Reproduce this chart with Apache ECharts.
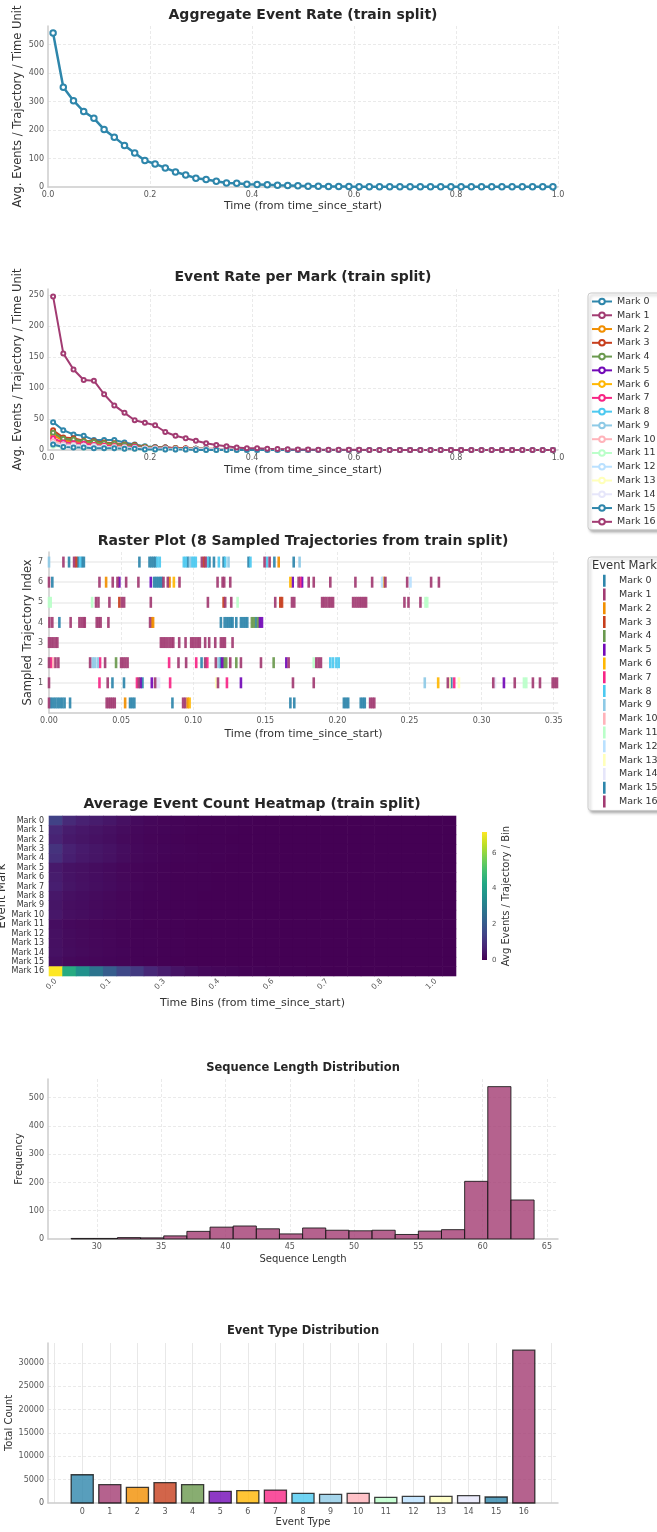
<!DOCTYPE html>
<html>
<head>
<meta charset="utf-8">
<script src="https://cdn.jsdelivr.net/npm/echarts@6/dist/echarts.min.js"></script>
<style>
  html, body { margin: 0; padding: 0; background: #ffffff; }
  #chart { width: 657px; height: 1532px; }
</style>
</head>
<body>
<div id="chart"></div>
<script>
// ---------- shared ----------
const FONT = 'DejaVu Sans';
const markNames = ['Mark 0','Mark 1','Mark 2','Mark 3','Mark 4','Mark 5','Mark 6','Mark 7','Mark 8',
  'Mark 9','Mark 10','Mark 11','Mark 12','Mark 13','Mark 14','Mark 15','Mark 16'];
const markColors = ['#2E86AB','#A23B72','#F18F01','#C73E1D','#6A994E','#7209B7','#FFB703','#F72585',
  '#4CC9F0','#8ECAE6','#FFB3BA','#BAFFC9','#BAE1FF','#FFFFBA','#E6E6FA','#2E86AB','#A23B72'];

// ---------- event rates (bin centres of width 0.02) ----------
const timeBins = [0.01,0.03,0.05,0.07,0.09,0.11,0.13,0.15,0.17,0.19,0.21,0.23,0.25,0.27,0.29,0.31,0.33,0.35,0.37,0.39,
  0.41,0.43,0.45,0.47,0.49,0.51,0.53,0.55,0.57,0.59,0.61,0.63,0.65,0.67,0.69,0.71,0.73,0.75,0.77,0.79,
  0.81,0.83,0.85,0.87,0.89,0.91,0.93,0.95,0.97,0.99];
const aggregateRate = [540,350,303,265,241,202,175,146,119,93,81,67,53,42,31,26,20,14,13,10,
  9,8,6,5,4,3,2.5,2,2,1.5,1.2,1,1,1,0.8,0.8,0.8,0.6,0.6,0.6,0.6,0.5,0.5,0.5,0.5,0.5,0.5,0.5,0.5,0.5];

const rateMark0 = [45,32,25,23,16,16,16,12,9,6,5,4,3,2,2,1.5,1,1,0.8,0.6,0.5,0.4,0.3,0.3,0.2,0.2,0.1,0.1,0.1,0.1,
  0,0,0,0,0,0,0,0,0,0,0,0,0,0,0,0,0,0,0,0];
const rateMark1 = [28,17,15,13,12,10,9,8,6,5,4,4,3,2,2,2,1,1,0.8,0.6,0.5,0.4,0.3,0.2,0.2,0.1,0.1,0.1,
  0,0,0,0,0,0,0,0,0,0,0,0,0,0,0,0,0,0,0,0,0,0];
const rateMark2 = [24,15,13,12,10,9,8,7,5,4,3,3,3,2,1,1,1,1,0.6,0.5,0.4,0.3,0.2,0.2,0.1,0.1,0.1,0.1,
  0,0,0,0,0,0,0,0,0,0,0,0,0,0,0,0,0,0,0,0,0,0];
const rateMark3 = [32,20,19,15,14,12,11,9,8,5,4,4,3,3,2,2,2,1,0.8,0.7,0.5,0.4,0.3,0.2,0.2,0.1,0.1,0.1,
  0,0,0,0,0,0,0,0,0,0,0,0,0,0,0,0,0,0,0,0,0,0];
const rateMark4 = [28,18,17,14,13,11,10,8,7,5,4,4,3,2,2,2,1,1,0.8,0.6,0.5,0.4,0.3,0.2,0.2,0.1,0.1,0.1,
  0,0,0,0,0,0,0,0,0,0,0,0,0,0,0,0,0,0,0,0,0,0];
const rateMark5 = [15,11,10,9,8,6,6,5,4,3,2,2,2,1,1,1,1,1,0.5,0.4,0.3,0.2,0.2,0.1,0.1,0.1,0,0,
  0,0,0,0,0,0,0,0,0,0,0,0,0,0,0,0,0,0,0,0,0,0];
const rateMark6 = [17,11,10,9,8,7,6,5,4,3,3,2,2,1,1,1,1,1,0.5,0.4,0.3,0.2,0.2,0.1,0.1,0.1,0,0,
  0,0,0,0,0,0,0,0,0,0,0,0,0,0,0,0,0,0,0,0,0,0];
const rateMark7 = [19,12,11,10,8,7,6,5,5,3,3,3,2,2,1,1,1,1,0.5,0.4,0.3,0.2,0.2,0.1,0.1,0.1,0,0,
  0,0,0,0,0,0,0,0,0,0,0,0,0,0,0,0,0,0,0,0,0,0];
const rateMark8 = [13,9,8,7,6,5,5,4,3,2,2,2,1,1,1,1,1,0,0.4,0.3,0.2,0.2,0.1,0.1,0.1,0,0,0,
  0,0,0,0,0,0,0,0,0,0,0,0,0,0,0,0,0,0,0,0,0,0];
const rateMark9 = [11,8,7,7,6,5,4,4,3,2,2,2,1,1,1,1,0,0,0.3,0.3,0.2,0.2,0.1,0.1,0.1,0,0,0,
  0,0,0,0,0,0,0,0,0,0,0,0,0,0,0,0,0,0,0,0,0,0];
const rateMark10 = [14,9,8,7,6,5,5,4,3,2,2,2,1,1,1,1,1,0,0.4,0.3,0.2,0.2,0.1,0.1,0.1,0,0,0,
  0,0,0,0,0,0,0,0,0,0,0,0,0,0,0,0,0,0,0,0,0,0];
const rateMark11 = [7,5,5,4,4,3,3,2,2,1,1,1,1,1,0,0,0,0,0.2,0.2,0.1,0.1,0.1,0,0,0,0,0,
  0,0,0,0,0,0,0,0,0,0,0,0,0,0,0,0,0,0,0,0,0,0];
const rateMark12 = [9,6,6,5,4,4,3,3,2,2,1,1,1,1,0,0,0,0,0.2,0.2,0.1,0.1,0.1,0,0,0,0,0,
  0,0,0,0,0,0,0,0,0,0,0,0,0,0,0,0,0,0,0,0,0,0];
const rateMark13 = [9,6,6,5,4,4,3,3,2,2,1,1,1,1,0,0,0,0,0.2,0.2,0.1,0.1,0.1,0,0,0,0,0,
  0,0,0,0,0,0,0,0,0,0,0,0,0,0,0,0,0,0,0,0,0,0];
const rateMark14 = [10,7,6,6,5,4,3,3,3,2,2,1,1,1,1,1,1,1,0.3,0.2,0.2,0.1,0.1,0,0,0,0,0,
  0,0,0,0,0,0,0,0,0,0,0,0,0,0,0,0,0,0,0,0,0,0];
const rateMark15 = [9,5,4,4,3,3,3,2,2,1,1,1,1,1,0,0,0,0,0.2,0.1,0.1,0.1,0,0,0,0,0,0,
  0,0,0,0,0,0,0,0,0,0,0,0,0,0,0,0,0,0,0,0,0,0];
const rateMark16 = [248,156,130,113,112,90,72,60,48,44,40,29,23,19,15,11,8,6,4,3,3,2,1.5,1.2,1,0.8,0.6,0.5,0.4,0.3,
  0.3,0.2,0.2,0.1,0.1,0.1,0.1,0.1,0,0,0,0,0,0,0,0,0,0,0,0];
const markRates = [rateMark0,rateMark1,rateMark2,rateMark3,rateMark4,rateMark5,rateMark6,rateMark7,rateMark8,
  rateMark9,rateMark10,rateMark11,rateMark12,rateMark13,rateMark14,rateMark15,rateMark16];

// ---------- raster: [time, mark] per sampled trajectory ----------
const traj0 = [[0.000,16],[0.0012,0],[0.0028,0],[0.0044,0],[0.006,0],[0.0076,0],[0.0092,0],[0.0108,0],[0.0146,0],
  [0.040,16],[0.0415,16],[0.0428,16],[0.0442,16],[0.0456,16],[0.0528,2],[0.0562,0],[0.0577,0],[0.0592,0],[0.0856,0],
  [0.093,16],[0.0945,1],[0.0962,2],[0.0975,6],[0.1674,0],[0.1701,0],[0.2045,0],[0.206,0],[0.2075,0],
  [0.2162,15],[0.2177,15],[0.219,15],[0.2227,16],[0.2242,16],[0.2256,16]];
const traj1 = [[0.000,16],[0.035,7],[0.0407,16],[0.044,0],[0.052,0],[0.061,7],[0.0623,16],[0.0635,5],[0.0648,0],
  [0.0713,5],[0.0736,16],[0.0748,14],[0.0763,14],[0.084,7],[0.116,13],[0.1172,16],[0.1234,7],[0.1331,5],[0.1692,16],
  [0.1836,16],[0.2606,9],[0.2699,6],[0.2766,16],[0.2778,13],[0.279,0],[0.281,7],[0.2843,13],[0.3081,16],[0.3093,14],
  [0.3155,5],[0.323,16],[0.3294,11],[0.331,11],[0.3356,16],[0.3405,16],[0.3493,16],[0.3508,16],[0.3523,16]];
const traj2 = [[0.000,16],[0.0015,7],[0.003,10],[0.0045,16],[0.0065,16],[0.0285,16],[0.0303,9],[0.0318,9],[0.0338,9],
  [0.0354,7],[0.0389,16],[0.0465,4],[0.050,16],[0.0515,16],[0.053,16],[0.0545,16],[0.0833,7],[0.0898,16],[0.0951,16],
  [0.1021,7],[0.1058,0],[0.1083,16],[0.1098,7],[0.1157,16],[0.1176,9],[0.1188,0],[0.1201,5],[0.1213,4],[0.1229,4],
  [0.1257,16],[0.1299,4],[0.1331,16],[0.147,16],[0.1558,4],[0.1646,5],[0.1662,16],[0.1836,11],[0.1854,16],[0.187,16],
  [0.1886,16],[0.1951,8],[0.197,8],[0.1993,8],[0.2009,8]];
const traj3 = [[0.000,16],[0.0015,16],[0.003,16],[0.0045,16],[0.0058,16],[0.0776,16],[0.0791,16],[0.0806,16],
  [0.0821,16],[0.0836,16],[0.085,16],[0.0862,16],[0.0903,16],[0.0947,16],[0.0986,16],[0.1001,16],[0.1016,16],
  [0.1031,16],[0.1046,16],[0.1083,16],[0.1111,16],[0.1153,16],[0.1192,16],[0.1207,16],[0.122,16],[0.1273,16]];
const traj4 = [[0.0003,16],[0.0023,16],[0.0072,0],[0.015,16],[0.0211,16],[0.0226,16],[0.0241,16],[0.0248,16],
  [0.0331,16],[0.0345,16],[0.0358,16],[0.0412,16],[0.0701,16],[0.0715,2],[0.0722,2],[0.1192,0],[0.1218,0],[0.1233,0],
  [0.1248,0],[0.1262,0],[0.1273,0],[0.1299,0],[0.1331,0],[0.1346,0],[0.1361,0],[0.1375,0],[0.1407,4],[0.1421,4],
  [0.1435,0],[0.1449,4],[0.1463,5],[0.1477,5]];
const traj5 = [[0.000,11],[0.0012,11],[0.0299,11],[0.0326,16],[0.0343,16],[0.0419,16],[0.0488,3],[0.0505,16],
  [0.0521,16],[0.0706,16],[0.1102,16],[0.1211,3],[0.1222,16],[0.1264,16],[0.1308,11],[0.1569,16],[0.1604,3],
  [0.1616,3],[0.1685,16],[0.1701,16],[0.1894,16],[0.1909,16],[0.1924,16],[0.194,16],[0.1955,16],[0.197,16],
  [0.2109,16],[0.2125,16],[0.214,16],[0.2155,16],[0.217,16],[0.2185,16],[0.2199,16],[0.2465,16],[0.2493,16],
  [0.2576,16],[0.2611,11],[0.2623,11]];
const traj6 = [[0.000,16],[0.0023,0],[0.035,16],[0.0396,2],[0.0442,16],[0.0475,16],[0.0488,5],[0.0535,16],[0.062,16],
  [0.0706,5],[0.0729,0],[0.0743,0],[0.0757,0],[0.0771,0],[0.0782,0],[0.0794,16],[0.0824,16],[0.0836,2],[0.0866,6],
  [0.0905,16],[0.1169,16],[0.1204,16],[0.1215,16],[0.1257,16],[0.1674,6],[0.169,5],[0.1731,16],[0.1743,7],[0.1755,5],
  [0.1801,16],[0.1836,16],[0.1951,16],[0.2125,16],[0.2241,16],[0.231,12],[0.2322,2],[0.2333,16],[0.2484,16],
  [0.2507,12],[0.265,16],[0.2704,16]];
const traj7 = [[0.000,9],[0.010,16],[0.0139,0],[0.0174,16],[0.0188,3],[0.0202,0],[0.0216,8],[0.0229,0],[0.0242,0],
  [0.0627,0],[0.0697,0],[0.0711,0],[0.0725,0],[0.0738,0],[0.0752,8],[0.0768,8],[0.0935,8],[0.0949,8],[0.0963,0],
  [0.0977,9],[0.0991,8],[0.1005,8],[0.1018,8],[0.106,16],[0.1075,3],[0.1086,16],[0.110,8],[0.1113,0],[0.1144,0],
  [0.1178,8],[0.1211,0],[0.1222,8],[0.1245,9],[0.1384,0],[0.1397,8],[0.1495,16],[0.1512,8],[0.153,16],[0.1563,0],
  [0.1593,2],[0.1697,0],[0.1738,9]];
const trajectories = [traj0, traj1, traj2, traj3, traj4, traj5, traj6, traj7];

// ---------- heatmap: avg events per trajectory per bin (30 bins) ----------
const heatTickLabels = ['0.0','0.1','0.3','0.4','0.6','0.7','0.8','1.0'];
const heatMark0  = [1.40,0.85,0.66,0.55,0.44,0.30,0.19,0.13,0.09,0.06,0.05,0.04,0.03,0.02,0.02,0.01,0.01,0.01,0,0,0,0,0,0,0,0,0,0,0,0];
const heatMark1  = [0.80,0.55,0.45,0.38,0.30,0.22,0.15,0.11,0.08,0.06,0.04,0.03,0.02,0.02,0.01,0.01,0.01,0,0,0,0,0,0,0,0,0,0,0,0,0];
const heatMark2  = [0.70,0.48,0.40,0.32,0.26,0.18,0.12,0.09,0.06,0.04,0.03,0.03,0.02,0.01,0.01,0.01,0,0,0,0,0,0,0,0,0,0,0,0,0,0];
const heatMark3  = [1.05,0.65,0.52,0.42,0.34,0.24,0.15,0.11,0.08,0.06,0.04,0.03,0.02,0.02,0.01,0.01,0.01,0,0,0,0,0,0,0,0,0,0,0,0,0];
const heatMark4  = [0.95,0.60,0.48,0.40,0.32,0.22,0.14,0.10,0.07,0.05,0.04,0.03,0.02,0.01,0.01,0.01,0,0,0,0,0,0,0,0,0,0,0,0,0,0];
const heatMark5  = [0.50,0.35,0.30,0.24,0.19,0.13,0.09,0.06,0.04,0.03,0.02,0.02,0.01,0.01,0,0,0,0,0,0,0,0,0,0,0,0,0,0,0,0];
const heatMark6  = [0.55,0.37,0.31,0.25,0.20,0.14,0.09,0.07,0.05,0.03,0.02,0.02,0.01,0.01,0,0,0,0,0,0,0,0,0,0,0,0,0,0,0,0];
const heatMark7  = [0.60,0.40,0.33,0.26,0.21,0.15,0.10,0.07,0.05,0.03,0.02,0.02,0.01,0.01,0,0,0,0,0,0,0,0,0,0,0,0,0,0,0,0];
const heatMark8  = [0.45,0.30,0.25,0.20,0.16,0.11,0.07,0.05,0.04,0.03,0.02,0.01,0.01,0,0,0,0,0,0,0,0,0,0,0,0,0,0,0,0,0];
const heatMark9  = [0.40,0.27,0.23,0.18,0.14,0.10,0.07,0.05,0.03,0.02,0.02,0.01,0.01,0,0,0,0,0,0,0,0,0,0,0,0,0,0,0,0,0];
const heatMark10 = [0.45,0.29,0.24,0.19,0.15,0.10,0.07,0.05,0.04,0.03,0.02,0.01,0.01,0,0,0,0,0,0,0,0,0,0,0,0,0,0,0,0,0];
const heatMark11 = [0.25,0.17,0.14,0.11,0.09,0.06,0.04,0.03,0.02,0.02,0.01,0.01,0,0,0,0,0,0,0,0,0,0,0,0,0,0,0,0,0,0];
const heatMark12 = [0.30,0.20,0.16,0.13,0.10,0.07,0.05,0.04,0.03,0.02,0.01,0.01,0,0,0,0,0,0,0,0,0,0,0,0,0,0,0,0,0,0];
const heatMark13 = [0.30,0.20,0.16,0.13,0.10,0.07,0.05,0.04,0.03,0.02,0.01,0.01,0,0,0,0,0,0,0,0,0,0,0,0,0,0,0,0,0,0];
const heatMark14 = [0.33,0.22,0.18,0.14,0.11,0.08,0.05,0.04,0.03,0.02,0.01,0.01,0,0,0,0,0,0,0,0,0,0,0,0,0,0,0,0,0,0];
const heatMark15 = [0.26,0.16,0.12,0.10,0.08,0.06,0.04,0.03,0.02,0.01,0.01,0,0,0,0,0,0,0,0,0,0,0,0,0,0,0,0,0,0,0];
const heatMark16 = [7.17,4.40,3.60,2.75,2.10,1.55,1.20,0.78,0.55,0.37,0.24,0.15,0.10,0.08,0.05,0.04,0.03,0.02,0.02,0.01,0.01,0.01,0,0,0,0,0,0,0,0];
const heatRows = [heatMark0,heatMark1,heatMark2,heatMark3,heatMark4,heatMark5,heatMark6,heatMark7,heatMark8,
  heatMark9,heatMark10,heatMark11,heatMark12,heatMark13,heatMark14,heatMark15,heatMark16];
const heatMax = 7.17;
const viridis = ['#440154','#482475','#414487','#355f8d','#2a788e','#21918c','#22a884','#44bf70','#7ad151','#bddf26','#fde725'];

// ---------- sequence length histogram ----------
const histEdges = [28,29.8,31.6,33.4,35.2,37,38.8,40.6,42.4,44.2,46,47.8,49.6,51.4,53.2,55,56.8,58.6,60.4,62.2,64];
const histCounts = [2,2,5,4,11,27,42,46,36,18,39,31,29,31,16,28,33,204,539,138];

// ---------- event type totals ----------
const eventTypes = [0,1,2,3,4,5,6,7,8,9,10,11,12,13,14,15,16];
const totalCounts = [6040,3910,3340,4340,3910,2490,2630,2770,2060,1850,2060,1210,1420,1420,1560,1280,32700];

// ---------- helpers ----------
const GRID_COLOR = '#e5e5e5';
const spine = { show: true, onZero: false, lineStyle: { color: '#cccccc', width: 1.5 } };
function ticks(step, digits, extra) {
  return Object.assign({
    fontFamily: FONT, fontSize: 8, color: '#555555', margin: 4,
    formatter: v => { const k = v / step; return Math.abs(k - Math.round(k)) < 1e-6 ? (+v).toFixed(digits) : ''; }
  }, extra || {});
}
function dashed(showMax) {
  return { show: true, showMinLine: false, showMaxLine: showMax, lineStyle: { color: GRID_COLOR, width: 0.8, type: [3, 2] } };
}
function axisTitle(text, gap, size) {
  return { name: text, nameLocation: 'middle', nameGap: gap, nameMoveOverlap: false,
    nameTextStyle: { fontFamily: FONT, fontSize: size, color: '#333333' } };
}
function titleText(text, x, y, size) {
  return { type: 'text', x: x, y: y, z: 10,
    style: { text: text, fill: '#262626', fontFamily: FONT, fontWeight: 'bold', fontSize: size, align: 'center', verticalAlign: 'middle' } };
}
function gridAt(left, top, width, height) {
  return { left: left, top: top, width: width, height: height, containLabel: false, outerBoundsMode: 'none' };
}

const grids = [
  gridAt(48, 26, 510, 161),    // aggregate rate
  gridAt(48, 289, 510, 161),   // per-mark rate
  gridAt(49, 552, 509, 161),   // raster
  gridAt(49, 816, 407, 160),   // heatmap
  gridAt(482, 832, 5, 128),    // colour bar
  gridAt(48, 1079, 510, 160),  // histogram
  gridAt(48, 1343, 510, 160)   // event type bars
];

const timeName = 'Time (from time_since_start)';
const rateName = 'Avg. Events / Trajectory / Time Unit';

const xAxes = [
  Object.assign({ gridIndex: 0, type: 'value', min: 0, max: 1, interval: 0.2, axisLine: spine, axisTick: { show: false },
    axisLabel: ticks(0.2, 1), splitLine: dashed(true) }, axisTitle(timeName, 14, 11)),
  Object.assign({ gridIndex: 1, type: 'value', min: 0, max: 1, interval: 0.2, axisLine: spine, axisTick: { show: false },
    axisLabel: ticks(0.2, 1), splitLine: dashed(true) }, axisTitle(timeName, 15, 11)),
  Object.assign({ gridIndex: 2, type: 'value', min: 0, max: 0.353, interval: 0.05, axisLine: spine, axisTick: { show: false },
    axisLabel: ticks(0.05, 2), splitLine: dashed(false) }, axisTitle(timeName, 16, 11)),
  Object.assign({ gridIndex: 3, type: 'category', data: heatMark0.map((v, i) => i), boundaryGap: true,
    axisLine: { show: false }, axisTick: { show: false }, splitLine: { show: false },
    axisLabel: { interval: 3, rotate: 45, fontFamily: FONT, fontSize: 7.5, color: '#555555', margin: 4,
      formatter: (v, idx) => (idx % 4 === 0 ? heatTickLabels[idx / 4] : '') } },
    axisTitle('Time Bins (from time_since_start)', 22, 11)),
  { gridIndex: 4, type: 'value', min: 0, max: 1, show: false },
  Object.assign({ gridIndex: 5, type: 'value', min: 26.2, max: 65.86, minInterval: 5, maxInterval: 5, axisLine: spine,
    axisTick: { show: false }, axisLabel: ticks(5, 0), splitLine: dashed(false) }, axisTitle('Sequence Length', 15, 10)),
  Object.assign({ gridIndex: 6, type: 'value', min: -1.24, max: 17.24, minInterval: 1, maxInterval: 1, axisLine: spine,
    axisTick: { show: false },
    axisLabel: { fontFamily: FONT, fontSize: 8, color: '#555555', margin: 5,
      formatter: v => (eventTypes.indexOf(v) >= 0 ? String(v) : '') },
    splitLine: { show: true, showMinLine: false, showMaxLine: false,
      lineStyle: { width: 1, type: 'solid', color: eventTypes.map(() => '#e8e8e8').concat(['rgba(0,0,0,0)']) } } },
    axisTitle('Event Type', 14, 10))
];

const yAxes = [
  Object.assign({ gridIndex: 0, type: 'value', min: 0, max: 565, interval: 100, axisLine: spine, axisTick: { show: false },
    axisLabel: ticks(100, 0), splitLine: dashed(false) }, axisTitle(rateName, 24, 11.5)),
  Object.assign({ gridIndex: 1, type: 'value', min: 0, max: 260, interval: 50, axisLine: spine, axisTick: { show: false },
    axisLabel: ticks(50, 0), splitLine: dashed(false) }, axisTitle(rateName, 24, 11.5)),
  Object.assign({ gridIndex: 2, type: 'value', min: -0.5, max: 7.5, minInterval: 1, maxInterval: 1, axisLine: spine,
    axisTick: { show: false }, axisLabel: ticks(1, 0, { margin: 6 }),
    splitLine: { show: true, showMinLine: false, showMaxLine: false, lineStyle: { color: '#ececec', width: 1.5 } } },
    axisTitle('Sampled Trajectory Index', 15, 11.5)),
  Object.assign({ gridIndex: 3, type: 'category', data: markNames, inverse: true, boundaryGap: true,
    axisLine: { show: false }, axisTick: { show: false }, splitLine: { show: false },
    axisLabel: { fontFamily: FONT, fontSize: 8, color: '#333333', margin: 5, interval: 0 } },
    axisTitle('Event Mark', 41, 11.5)),
  Object.assign({ gridIndex: 4, type: 'value', min: 0, max: heatMax, interval: 2, position: 'right',
    axisLine: { show: false }, axisTick: { show: false }, splitLine: { show: false },
    axisLabel: ticks(2, 0, { fontSize: 7, margin: 5 }) }, axisTitle('Avg Events / Trajectory / Bin', 14, 10)),
  Object.assign({ gridIndex: 5, type: 'value', min: 0, max: 566, interval: 100, axisLine: spine, axisTick: { show: false },
    axisLabel: ticks(100, 0), splitLine: dashed(false) }, axisTitle('Frequency', 24, 10)),
  Object.assign({ gridIndex: 6, type: 'value', min: 0, max: 34230, interval: 5000, axisLine: spine, axisTick: { show: false },
    axisLabel: ticks(5000, 0), splitLine: dashed(false) }, axisTitle('Total Count', 34, 10))
];

// ---------- series ----------
const series = [];

// aggregate event rate
series.push({
  type: 'line', xAxisIndex: 0, yAxisIndex: 0, name: 'Aggregate',
  data: timeBins.map((t, i) => [t, aggregateRate[i]]),
  symbol: 'emptyCircle', symbolSize: 5.5, showSymbol: true,
  lineStyle: { color: '#2E86AB', width: 2.5 },
  itemStyle: { color: '#2E86AB', borderWidth: 1.5 }
});

// per-mark event rate
markRates.forEach((rates, k) => {
  series.push({
    type: 'line', xAxisIndex: 1, yAxisIndex: 1, name: markNames[k],
    data: timeBins.map((t, i) => [t, rates[i]]),
    symbol: 'emptyCircle', symbolSize: 4, showSymbol: true,
    lineStyle: { color: markColors[k], width: 2 },
    itemStyle: { color: markColors[k], borderWidth: 1.1 }
  });
});

// raster events, one series per mark
const rasterByMark = markNames.map(() => []);
trajectories.forEach((events, row) => {
  events.forEach(([t, m]) => rasterByMark[m].push([t, row]));
});
rasterByMark.forEach((pts, k) => {
  series.push({
    type: 'scatter', xAxisIndex: 2, yAxisIndex: 2, name: markNames[k],
    data: pts, symbol: 'rect', symbolSize: [2.6, 11],
    itemStyle: { color: markColors[k], opacity: 0.92 }
  });
});

// heatmap cells (colour from the visualMap; cells overlap slightly so no seams show)
const heatData = [];
heatRows.forEach((row, y) => row.forEach((v, x) => heatData.push([x, y, v])));
const heatSeriesIndex = series.length;
series.push({
  type: 'custom', xAxisIndex: 3, yAxisIndex: 3, data: heatData, silent: true,
  encode: { x: 0, y: 1 },
  renderItem: (params, api) => {
    const c = api.coord([api.value(0), api.value(1)]);
    const s = api.size([1, 1]);
    return {
      type: 'rect',
      shape: { x: c[0] - s[0] / 2 - 0.3, y: c[1] - s[1] / 2 - 0.3, width: s[0] + 0.6, height: s[1] + 0.6 },
      style: { fill: api.visual('color') }
    };
  }
});

// colour bar
series.push({
  type: 'custom', xAxisIndex: 4, yAxisIndex: 4, data: [[0, heatMax]], silent: true,
  renderItem: (params, api) => {
    const p0 = api.coord([0, 0]);
    const p1 = api.coord([1, api.value(1)]);
    return {
      type: 'rect',
      shape: { x: p0[0], y: p1[1], width: p1[0] - p0[0], height: p0[1] - p1[1] },
      style: { fill: new echarts.graphic.LinearGradient(0, 1, 0, 0,
        viridis.map((c, i) => ({ offset: i / (viridis.length - 1), color: c }))) }
    };
  }
});

// sequence length histogram
series.push({
  type: 'custom', xAxisIndex: 5, yAxisIndex: 5,
  data: histCounts.map((c, i) => [histEdges[i], histEdges[i + 1], c]),
  encode: { x: [0, 1], y: 2 },
  renderItem: (params, api) => {
    const p0 = api.coord([api.value(0), 0]);
    const p1 = api.coord([api.value(1), api.value(2)]);
    return {
      type: 'rect',
      shape: { x: p0[0], y: p1[1], width: p1[0] - p0[0], height: p0[1] - p1[1] },
      style: { fill: 'rgba(162,59,114,0.8)', stroke: 'rgba(20,20,20,0.85)', lineWidth: 1 }
    };
  }
});

// event type totals
series.push({
  type: 'custom', xAxisIndex: 6, yAxisIndex: 6,
  data: eventTypes.map((k, i) => [k, totalCounts[i]]),
  renderItem: (params, api) => {
    const k = api.value(0);
    const p0 = api.coord([k - 0.4, 0]);
    const p1 = api.coord([k + 0.4, api.value(1)]);
    return {
      type: 'rect',
      shape: { x: p0[0], y: p1[1], width: p1[0] - p0[0], height: p0[1] - p1[1] },
      style: { fill: markColors[k], opacity: 0.8, stroke: '#111111', lineWidth: 1.3 }
    };
  }
});

// ---------- legends ----------
const barIcon = 'path://M0,0L0.01,0L0.01,0.01L0,0.01Z M9,0L11.6,0L11.6,12L9,12Z M19.99,11.99L20,11.99L20,12L19.99,12Z';
const legendBox = {
  backgroundColor: '#ffffff', borderColor: '#cccccc', borderWidth: 1, borderRadius: 3,
  shadowBlur: 3, shadowColor: 'rgba(0,0,0,0.3)', shadowOffsetX: 2, shadowOffsetY: 2,
  selectedMode: false, orient: 'vertical'
};
const legends = [
  Object.assign({
    left: 588, top: 293, data: markNames, itemWidth: 20, itemHeight: 7, itemGap: 1.77,
    padding: [2.5, 8, 2, 3],
    textStyle: { fontFamily: FONT, fontSize: 9.5, color: '#333333', lineHeight: 12 }
  }, legendBox),
  Object.assign({
    left: 588, top: 557, itemWidth: 20, itemHeight: 12, itemGap: 1.8, padding: [17.7, 8, 3, 6],
    data: markNames.map((n, k) => ({ name: n, icon: barIcon, itemStyle: { color: markColors[k], borderWidth: 0 } })),
    textStyle: { fontFamily: FONT, fontSize: 9.5, color: '#333333', lineHeight: 12 }
  }, legendBox)
];

const option = {
  animation: false,
  backgroundColor: '#ffffff',
  grid: grids,
  xAxis: xAxes,
  yAxis: yAxes,
  legend: legends,
  visualMap: [{ type: 'continuous', show: false, seriesIndex: heatSeriesIndex, dimension: 2, min: 0, max: heatMax,
    inRange: { color: viridis } }],
  graphic: [
    titleText('Aggregate Event Rate (train split)', 303, 15, 14),
    titleText('Event Rate per Mark (train split)', 303, 277, 14),
    titleText('Raster Plot (8 Sampled Trajectories from train split)', 303, 541, 14),
    titleText('Average Event Count Heatmap (train split)', 252, 804.5, 14),
    titleText('Sequence Length Distribution', 303, 1068, 11.5),
    titleText('Event Type Distribution', 303, 1331.5, 11.5),
    { type: 'text', x: 592, y: 566, z: 20,
      style: { text: 'Event Mark', fill: '#333333', fontFamily: FONT, fontSize: 11.5, align: 'left', verticalAlign: 'middle' } }
  ],
  series: series
};

const chart = echarts.init(document.getElementById('chart'), null, { renderer: 'canvas', width: 657, height: 1532 });
chart.setOption(option);
</script>
</body>
</html>
